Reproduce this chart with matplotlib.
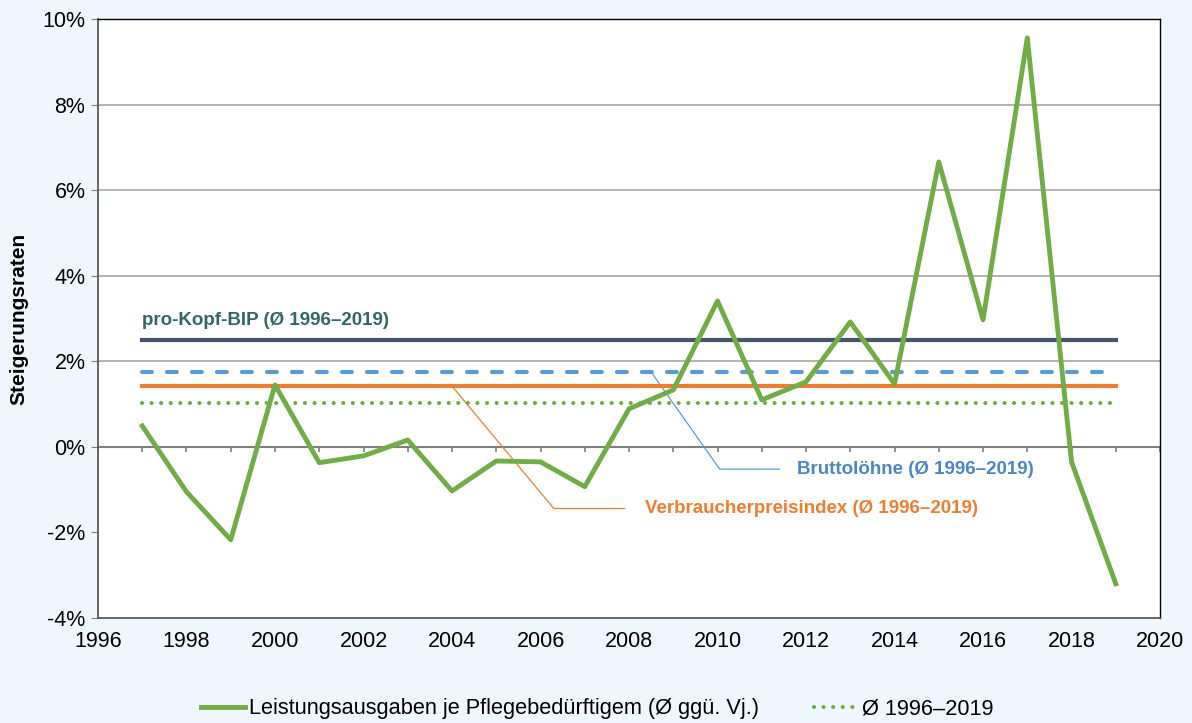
import matplotlib.pyplot as plt
from matplotlib.ticker import FuncFormatter

# Daten
years = list(range(1997, 2020))
leistung = [0.49, -1.05, -2.17, 1.45, -0.37, -0.21, 0.16, -1.03, -0.33, -0.35, -0.93,
            0.89, 1.33, 3.41, 1.10, 1.52, 2.92, 1.47, 6.66, 2.97, 9.56, -0.35, -3.20]
avg_leistung = 1.03
avg_bip = 2.50
avg_loehne = 1.75
avg_vpi = 1.42

green = '#70AD47'
orange = '#ED7D31'
blue = '#5B9BD5'
darkblue = '#44546A'
bg = '#F0F6FD'

plt.rcParams['font.family'] = ['Liberation Sans', 'DejaVu Sans']

fig = plt.figure(figsize=(11.92, 7.23), dpi=100, facecolor=bg)
ax = fig.add_axes([0.0822, 0.1452, 0.891, 0.8285])
ax.set_facecolor('white')

# Raster
for v in [2, 4, 6, 8]:
    ax.axhline(v, color='#A6A6A6', lw=1.2, zorder=1)
ax.axhline(0, color='#7F7F7F', lw=1.5, zorder=1)
ax.vlines(years + [1996, 2020], 0, -0.12, color='#7F7F7F', lw=1.2, zorder=1)

# Durchschnittslinien
x0, x1 = years[0], years[-1]
ax.plot([x0, x1], [avg_bip] * 2, color=darkblue, lw=3, zorder=3)
ax.plot([x0, x1], [avg_loehne] * 2, color=blue, lw=3, dashes=(2.35, 3.65),
        dash_capstyle='round', zorder=3)
ax.plot([x0, x1], [avg_vpi] * 2, color=orange, lw=3, zorder=3)
ax.plot([x0, x1], [avg_leistung] * 2, color=green, lw=3, linestyle=(0, (0.01, 2.29)),
        dash_capstyle='round', zorder=3, label='Ø 1996–2019')
ax.plot(years, leistung, color=green, lw=3.5, zorder=4,
        label='Leistungsausgaben je Pflegebedürftigem (Ø ggü. Vj.)')

# Beschriftungen
fs = 13.5
ax.text(1997, 2.75, 'pro-Kopf-BIP (Ø 1996–2019)', color='#336666', fontsize=fs,
        fontweight='bold', va='bottom', ha='left')
ax.plot([2008.5, 2010.05, 2011.4], [avg_loehne, -0.52, -0.52], color=blue, lw=0.9, zorder=2)
ax.text(2011.8, -0.52, 'Bruttolöhne (Ø 1996–2019)', color='#4A86C6', fontsize=fs,
        fontweight='bold', va='center', ha='left')
ax.plot([2004.0, 2006.3, 2007.9], [avg_vpi, -1.44, -1.44], color=orange, lw=0.9, zorder=2)
ax.text(2008.35, -1.44, 'Verbraucherpreisindex (Ø 1996–2019)', color=orange, fontsize=fs,
        fontweight='bold', va='center', ha='left')

ax.set_xlim(1996, 2020)
ax.set_ylim(-4, 10)
ax.set_xticks(range(1996, 2021, 2))
ax.set_yticks(range(-4, 11, 2))
ax.yaxis.set_major_formatter(FuncFormatter(lambda v, p: f'{v:.0f}%'))
ax.tick_params(axis='x', length=0, labelsize=15.5, pad=9)
ax.tick_params(axis='y', length=5, color='#7F7F7F', labelsize=15.5, pad=4)
for s in ['top', 'right']:
    ax.spines[s].set_color('black')
    ax.spines[s].set_linewidth(1)
for s in ['left', 'bottom']:
    ax.spines[s].set_color('#595959')
    ax.spines[s].set_linewidth(1.3)

ax.set_ylabel('Steigerungsraten', fontsize=15, fontweight='bold', labelpad=10)

handles, labels = ax.get_legend_handles_labels()
fig.legend(handles[::-1], labels[::-1], loc='lower center', bbox_to_anchor=(0.501, -0.022),
           ncol=2, frameon=False, fontsize=15.7, handlelength=2.0, columnspacing=2.5,
           handletextpad=0.2)

fig.savefig('out.png', dpi=100, facecolor=bg)
